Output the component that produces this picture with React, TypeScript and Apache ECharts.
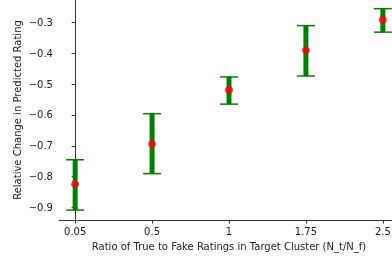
import React, { useEffect, useRef } from "react";
import * as echarts from "echarts";

const categories = ["0.05", "0.5", "1", "1.75", "2.5"];
const means = [-0.824, -0.694, -0.519, -0.391, -0.292];
const lows = [-0.908, -0.79, -0.565, -0.474, -0.332];
const highs = [-0.745, -0.596, -0.477, -0.311, -0.256];
const yTicks = [-0.9, -0.8, -0.7, -0.6, -0.5, -0.4, -0.3];

export default function App() {
  const ref = useRef<HTMLDivElement>(null);
  useEffect(() => {
    const chart = echarts.init(ref.current!, null, { renderer: "svg" });
    const font = "DejaVu Sans";
    const errData = categories.map((_, i) => [i, lows[i], highs[i]]);
    const ptData = categories.map((_, i) => [i, means[i]]);
    chart.setOption({
      animation: false,
      grid: { left: 59, right: 1, top: 0, bottom: 42 },
      xAxis: {
        type: "value",
        min: -0.21,
        max: 4.21,
        name: "Ratio of True to Fake Ratings in Target Cluster (N_t/N_f)",
        nameLocation: "middle",
        nameGap: 21,
        nameMoveOverlap: false,
        nameTextStyle: { fontFamily: font, fontSize: 10, color: "#222" },
        axisLine: { show: true, lineStyle: { color: "#333", width: 1 } },
        axisTick: { show: true, customValues: [0, 1, 2, 3, 4], length: 3.5, lineStyle: { color: "#333" } },
        axisLabel: {
          customValues: [0, 1, 2, 3, 4],
          formatter: (v: number) => categories[Math.round(v)],
          fontFamily: font,
          fontSize: 10,
          color: "#222",
          margin: 6,
        },
        splitLine: { show: false },
      },
      yAxis: {
        type: "value",
        min: -0.94,
        max: -0.228,
        name: "Relative Change in Predicted Rating",
        nameLocation: "middle",
        nameGap: 37,
        nameMoveOverlap: false,
        nameTextStyle: { fontFamily: font, fontSize: 10, color: "#222" },
        axisLine: { show: true, lineStyle: { color: "#333", width: 1 } },
        axisTick: { show: true, customValues: yTicks, length: 3.5, lineStyle: { color: "#333" } },
        axisLabel: {
          customValues: yTicks,
          formatter: (v: number) => v.toFixed(1).replace("-", "\u2212"),
          fontFamily: font,
          fontSize: 10,
          color: "#222",
          margin: 6,
        },
        splitLine: { show: false },
      },
      series: [
        {
          type: "custom",
          data: errData,
          encode: { x: 0, y: [1, 2] },
          renderItem: (params: any, api: any) => {
            const x = api.value(0);
            const lo = api.coord([x, api.value(1)]);
            const hi = api.coord([x, api.value(2)]);
            const hw = 9;
            const green = "#008000";
            return {
              type: "group",
              children: [
                { type: "line", shape: { x1: lo[0], y1: lo[1], x2: hi[0], y2: hi[1] }, style: { stroke: green, lineWidth: 5 } },
                { type: "line", shape: { x1: lo[0] - hw, y1: lo[1], x2: lo[0] + hw, y2: lo[1] }, style: { stroke: green, lineWidth: 1.5 } },
                { type: "line", shape: { x1: hi[0] - hw, y1: hi[1], x2: hi[0] + hw, y2: hi[1] }, style: { stroke: green, lineWidth: 1.5 } },
              ],
            };
          },
          z: 2,
        },
        {
          type: "scatter",
          data: ptData,
          symbol: "circle",
          symbolSize: 8,
          itemStyle: { color: "#ff0000" },
          z: 3,
        },
      ],
    });
    return () => chart.dispose();
  }, []);
  return <div ref={ref} style={{ width: 400, height: 262, position: "fixed", left: 0, top: 0 }} />;
}
